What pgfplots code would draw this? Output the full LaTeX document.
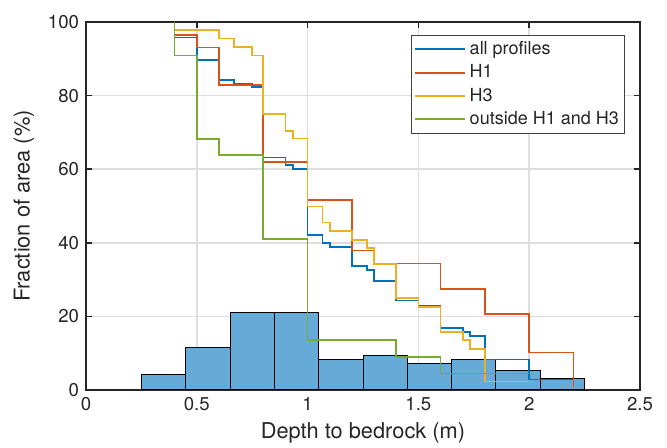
\documentclass[border=0pt]{standalone}
\usepackage{fontspec}
\setmainfont{TeX Gyre Heros}
\usepackage{pgfplots}
\pgfplotsset{compat=1.18}
\definecolor{mblue}{rgb}{0,0.447,0.741}
\definecolor{morange}{rgb}{0.850,0.325,0.098}
\definecolor{myellow}{rgb}{0.929,0.694,0.125}
\definecolor{mgreen}{rgb}{0.466,0.674,0.188}
\definecolor{histfill}{RGB}{102,170,215}
\definecolor{axgray}{RGB}{38,38,38}
\begin{document}
\begin{tikzpicture}
\begin{axis}[
  scale only axis,
  width=277pt, height=184pt,
  xmin=0, xmax=2.5, ymin=0, ymax=100,
  xtick={0,0.5,1,1.5,2,2.5},
  ytick={0,20,40,60,80,100},
  grid=major,
  major grid style={black!13, line width=0.8pt},
  axis line style={axgray, line width=0.8pt},
  major tick style={axgray, line width=0.8pt},
  major tick length=3pt,
  tick label style={font=\fontsize{9.3}{11}\selectfont, text=axgray},
  label style={font=\fontsize{10.9}{13}\selectfont, text=axgray},
  xlabel style={yshift=1pt},
  /pgf/number format/assume math mode=true,
  xlabel={Depth to bedrock (m)},
  ylabel={Fraction of area (\%)},
  legend cell align=left,
  legend style={at={(0.9735,0.9655)}, anchor=north east,
    draw=black!75, line width=0.5pt, fill=white,
    font=\fontsize{9}{11}\selectfont, text=axgray,
    inner xsep=1pt, inner ysep=1pt, row sep=-0.4pt},
  legend image code/.code={\draw[#1, line width=0.9pt] (0pt,0pt) -- (25pt,0pt);},
]
% histogram of depths
\addplot[ybar interval, fill=histfill, draw=black, line width=0.5pt, forget plot]
  coordinates {(0.25,4.1)(0.45,11.5)(0.65,21.1)(0.85,21.1)(1.05,8.4)(1.25,9.5)
               (1.45,7.3)(1.65,8.4)(1.85,5.2)(2.05,3.1)(2.25,3.1)};
% cumulative fractions
\addplot[const plot, mblue, line width=0.8pt] coordinates {
  (0.4,100)(0.4,95.8)(0.5,89.6)(0.6,84.2)(0.667,83.2)(0.75,82.3)(0.8,63.2)
  (0.9,61.1)(0.933,60.1)(1.0,42.1)(1.067,40.0)(1.1,38.9)(1.2,33.7)(1.267,32.6)
  (1.3,29.6)(1.4,24.3)(1.5,23.0)(1.6,16.8)(1.7,15.8)(1.733,14.7)(1.8,8.3)
  (2.0,2.9)(2.2,0.9)};
\addlegendentry{all profiles}
\addplot[const plot, morange, line width=0.8pt] coordinates {
  (0.4,100)(0.4,96.5)(0.5,93.1)(0.6,82.8)(0.8,62.0)(1.0,51.7)(1.2,37.9)
  (1.3,34.4)(1.6,27.5)(1.8,20.6)(2.0,10.2)(2.2,0.9)};
\addlegendentry{H1}
\addplot[const plot, myellow, line width=0.8pt] coordinates {
  (0.4,100)(0.4,97.8)(0.6,95.5)(0.667,93.2)(0.75,90.9)(0.8,75.0)(0.9,70.4)
  (0.933,68.3)(1.0,49.9)(1.067,45.5)(1.1,43.2)(1.2,40.8)(1.267,38.6)(1.3,34.2)
  (1.4,25.0)(1.5,22.6)(1.6,15.8)(1.7,13.6)(1.733,11.2)(1.8,2.3)(2.0,2.3)};
\addlegendentry{H3}
\addplot[const plot, mgreen, line width=0.8pt] coordinates {
  (0.4,100)(0.4,90.9)(0.5,68.2)(0.6,63.8)(0.8,41.0)(1.0,13.6)(1.4,9.0)
  (1.6,4.5)(2.0,4.5)};
\addlegendentry{outside H1 and H3}
\end{axis}
\pgfresetboundingbox
\path (-43pt,-29pt) rectangle (290.5pt,195pt);
\end{tikzpicture}
\end{document}
